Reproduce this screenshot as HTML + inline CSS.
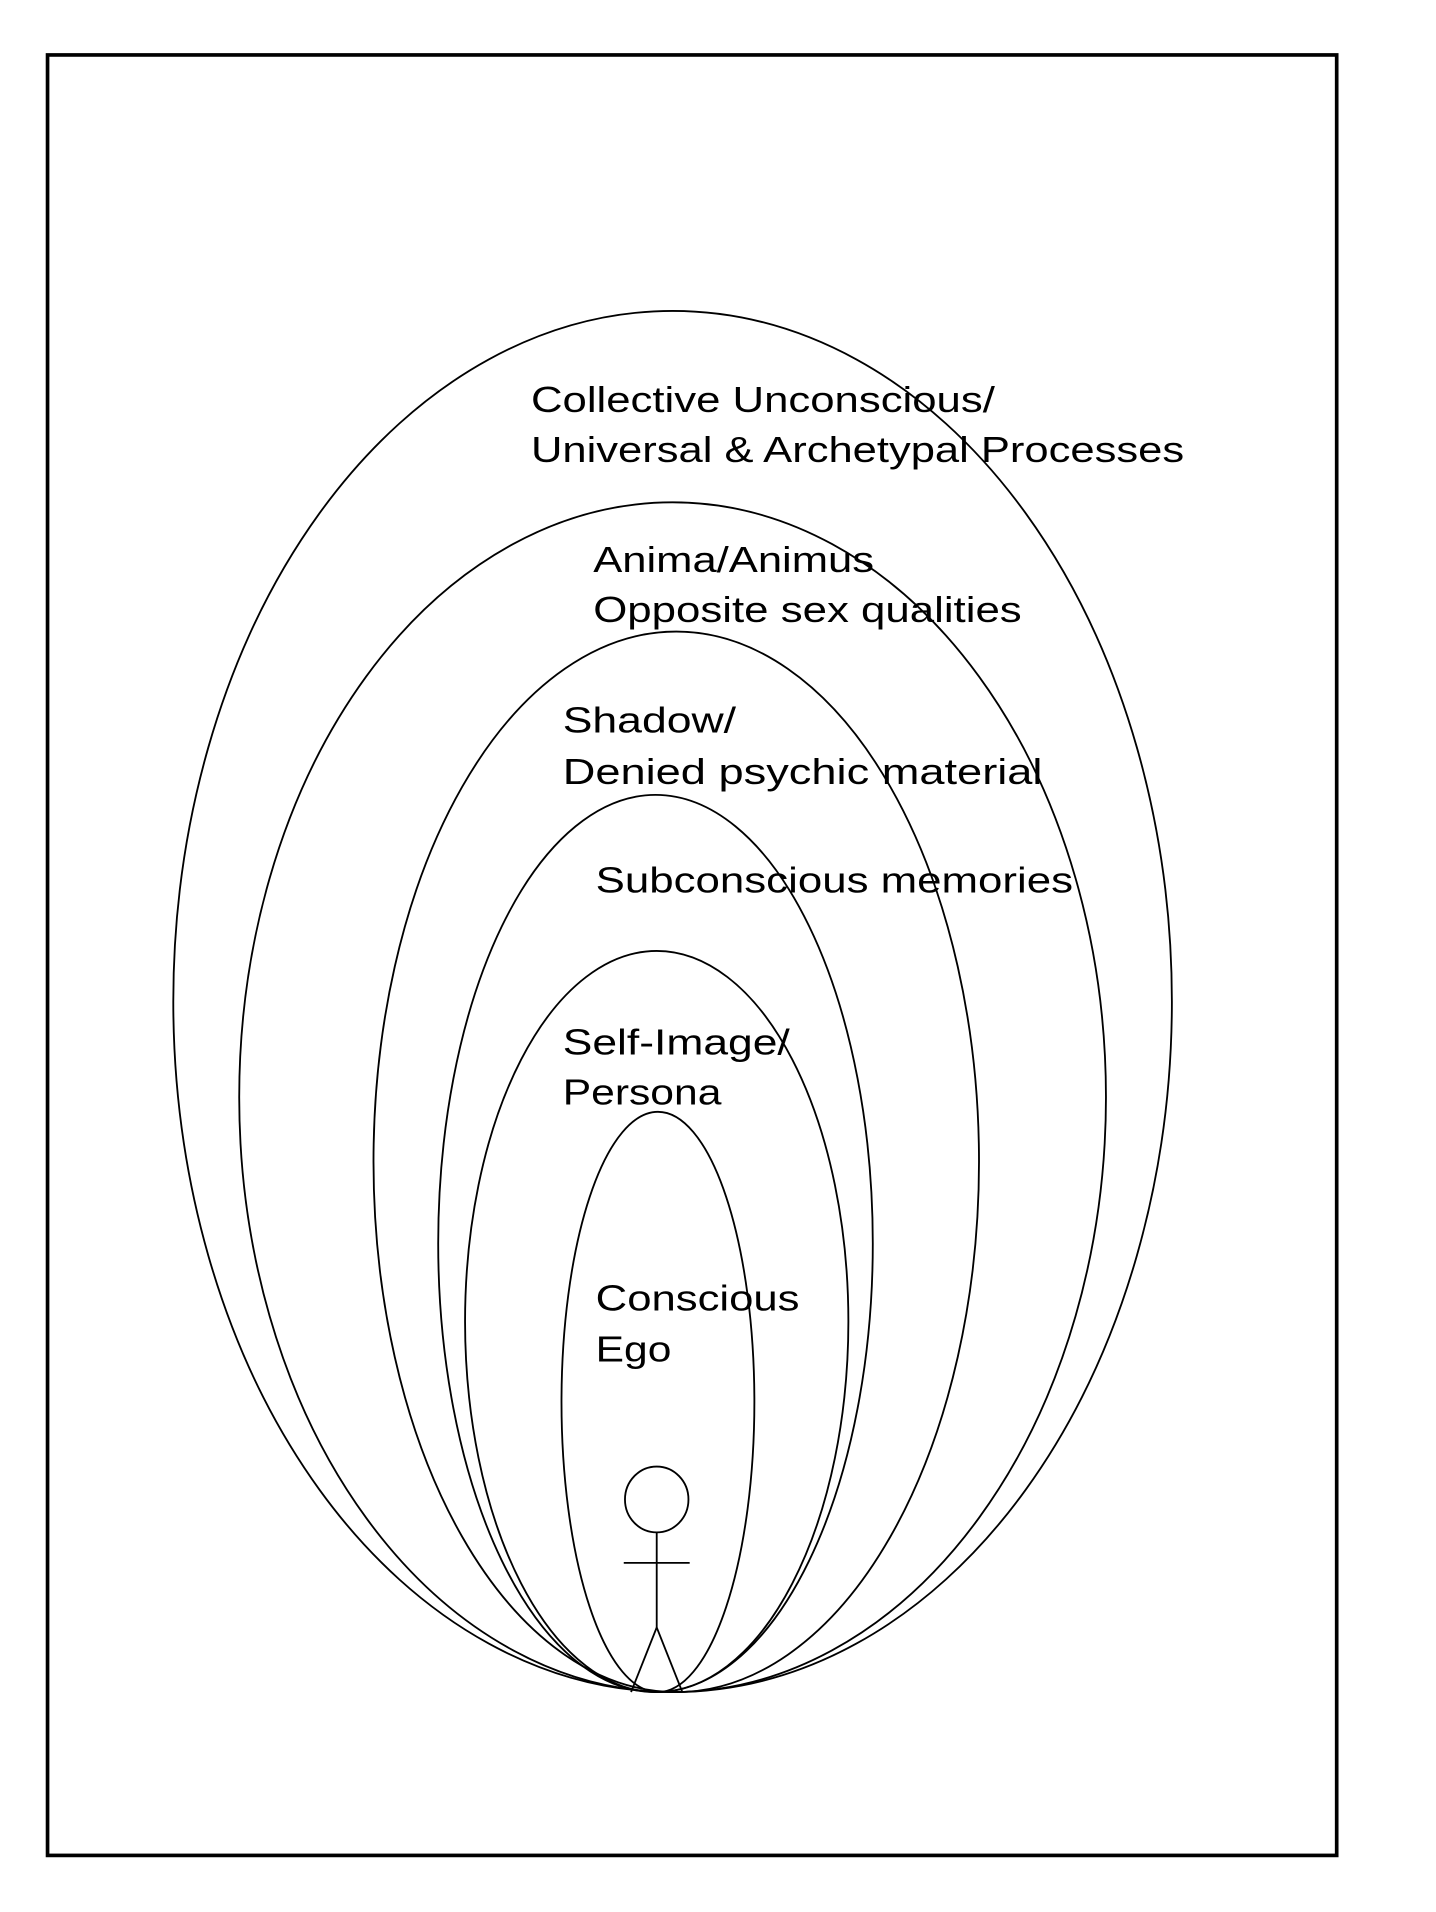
<!DOCTYPE html>
<html><head><meta charset="utf-8"><style>
html,body{margin:0;padding:0;background:#fff}
svg{display:block}
text{font-family:"Liberation Sans",Arial,sans-serif;font-size:30px;fill:#000}
</style></head><body>
<svg width="1436" height="1912" viewBox="1.05 -0.08 1176.3 1568.5" preserveAspectRatio="none" xmlns="http://www.w3.org/2000/svg">
<rect x="40" y="45" width="1056" height="1477" fill="none" stroke="#000" stroke-width="3"/>
<g fill="none" stroke="#000" stroke-width="1.5">
<ellipse cx="552" cy="821.5" rx="409" ry="566.5"/>
<ellipse cx="552" cy="900" rx="355" ry="488"/>
<ellipse cx="555" cy="953" rx="248" ry="435"/>
<ellipse cx="538" cy="1020" rx="178" ry="368"/>
<ellipse cx="539" cy="1084" rx="157" ry="304"/>
<ellipse cx="540" cy="1150" rx="79" ry="238"/>
<ellipse cx="539" cy="1230" rx="26" ry="27"/>
<line x1="539" y1="1257" x2="539" y2="1335"/>
<line x1="512" y1="1282" x2="566" y2="1282"/>
<line x1="539" y1="1335" x2="518" y2="1388"/>
<line x1="539" y1="1335" x2="560" y2="1388"/>
</g>
<text x="436" y="338" textLength="380" lengthAdjust="spacingAndGlyphs">Collective Unconscious/</text>
<text x="436" y="379" textLength="535" lengthAdjust="spacingAndGlyphs">Universal &amp; Archetypal Processes</text>
<text x="487" y="469" textLength="230" lengthAdjust="spacingAndGlyphs">Anima/Animus</text>
<text x="487" y="510" textLength="351" lengthAdjust="spacingAndGlyphs">Opposite sex qualities</text>
<text x="462" y="601" textLength="142" lengthAdjust="spacingAndGlyphs">Shadow/</text>
<text x="462" y="643" textLength="393" lengthAdjust="spacingAndGlyphs">Denied psychic material</text>
<text x="489" y="732" textLength="391" lengthAdjust="spacingAndGlyphs">Subconscious memories</text>
<text x="462" y="865" textLength="186" lengthAdjust="spacingAndGlyphs">Self-Image/</text>
<text x="462" y="906" textLength="130" lengthAdjust="spacingAndGlyphs">Persona</text>
<text x="489" y="1075" textLength="167" lengthAdjust="spacingAndGlyphs">Conscious</text>
<text x="489" y="1117" textLength="62" lengthAdjust="spacingAndGlyphs">Ego</text>
</svg>
</body></html>
